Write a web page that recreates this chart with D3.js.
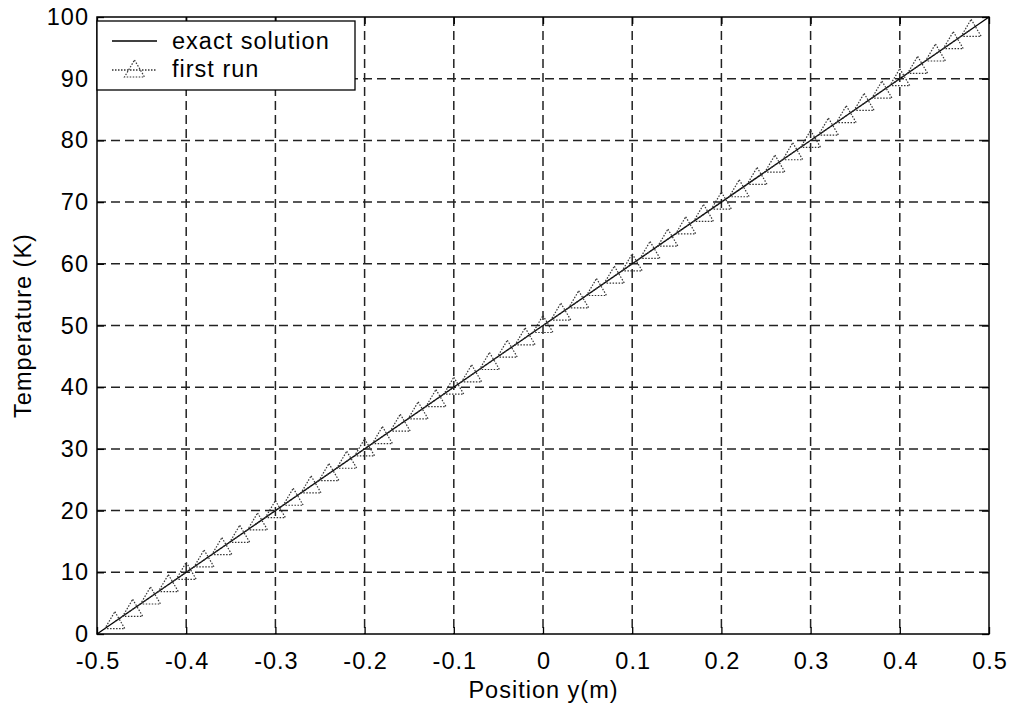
<!DOCTYPE html>
<html><head><meta charset="utf-8">
<script src="https://cdn.jsdelivr.net/npm/d3@7"></script>
<style>body{margin:0;background:#fff;} text{font-family:"Liberation Sans",Arial,sans-serif;}</style>
</head><body><svg id="c" width="1011" height="713"></svg>
<script>
const xTicks = [-0.5,-0.4,-0.3,-0.2,-0.1,0,0.1,0.2,0.3,0.4,0.5];
const yTicks = [0,10,20,30,40,50,60,70,80,90,100];
const exactX = [-0.5, 0, 0.5];
const exactT = [0, 50, 100];
const runX = [-0.48,-0.46,-0.44,-0.42,-0.40,-0.38,-0.36,-0.34,-0.32,-0.30,-0.28,-0.26,-0.24,-0.22,-0.20,-0.18,-0.16,-0.14,-0.12,-0.10,-0.08,-0.06,-0.04,-0.02,0,0.02,0.04,0.06,0.08,0.10,0.12,0.14,0.16,0.18,0.20,0.22,0.24,0.26,0.28,0.30,0.32,0.34,0.36,0.38,0.40,0.42,0.44,0.46,0.48];
const runT = [2,4,6,8,10,12,14,16,18,20,22,24,26,28,30,32,34,36,38,40,42,44,46,48,50,52,54,56,58,60,62,64,66,68,70,72,74,76,78,80,82,84,86,88,90,92,94,96,98];

const svg = d3.select("#c");
const L=97,R=989,T=17,B=634;
const FS=23.5, LS=1;
const x = d3.scaleLinear().domain([-0.5,0.5]).range([L,R]);
const y = d3.scaleLinear().domain([0,100]).range([B,T]);

// grid
const g = svg.append("g");
g.selectAll(".vg").data(xTicks.slice(1,-1)).enter().append("line")
 .attr("x1",d=>x(d)).attr("x2",d=>x(d)).attr("y1",T).attr("y2",B)
 .attr("stroke","#222").attr("stroke-width",1.5).attr("stroke-dasharray","9,5");
g.selectAll(".hg").data(yTicks.slice(1,-1)).enter().append("line")
 .attr("y1",d=>y(d)).attr("y2",d=>y(d)).attr("x1",L).attr("x2",R)
 .attr("stroke","#222").attr("stroke-width",1.5).attr("stroke-dasharray","9,5");

// axes
const fmt = d=> String(d);
const xa = svg.append("g").attr("transform",`translate(0,${B})`)
 .call(d3.axisBottom(x).tickValues(xTicks).tickSize(-7).tickPadding(27).tickFormat(fmt));
const xt = svg.append("g").attr("transform",`translate(0,${T})`)
 .call(d3.axisTop(x).tickValues(xTicks).tickSize(-7).tickFormat(""));
const ya = svg.append("g").attr("transform",`translate(${L},0)`)
 .call(d3.axisLeft(y).tickValues(yTicks).tickSize(-7).tickPadding(8).tickFormat(fmt));
const yr = svg.append("g").attr("transform",`translate(${R},0)`)
 .call(d3.axisRight(y).tickValues(yTicks).tickSize(-7).tickFormat(""));
[xa,xt,ya,yr].forEach(a=>{
  a.select(".domain").remove();
  a.selectAll("line").attr("stroke","#000").attr("stroke-width",1.3);
  a.selectAll("text").attr("font-size",FS).attr("fill","#000").attr("letter-spacing",LS)
   .style("font-family","Liberation Sans, Arial, sans-serif");
});
xa.selectAll("text").attr("dy","0.35em").attr("dx",LS/2);

svg.append("rect").attr("x",L).attr("y",T).attr("width",R-L).attr("height",B-T)
 .attr("fill","none").attr("stroke","#000").attr("stroke-width",1.5);

// exact line
const line = d3.line().x(d=>x(d[0])).y(d=>y(d[1]));
svg.append("path").datum(exactX.map((v,i)=>[v,exactT[i]])).attr("d",line)
 .attr("fill","none").attr("stroke","#000").attr("stroke-width",1.3);
// run line
svg.append("path").datum(runX.map((v,i)=>[v,runT[i]])).attr("d",line)
 .attr("fill","none").attr("stroke","#333").attr("stroke-width",1.3).attr("stroke-dasharray","1.5,1.5");
// triangles
const tri = (cx,cy)=>`M${cx},${cy-10}L${cx+10},${cy+7}L${cx-10},${cy+7}Z`;
svg.append("g").selectAll("path").data(runX.map((v,i)=>[v,runT[i]])).enter().append("path")
 .attr("d",d=>tri(x(d[0]),y(d[1])))
 .attr("fill","none").attr("stroke","#333").attr("stroke-width",1.2).attr("stroke-dasharray","1.5,1.5");

// labels
svg.append("text").attr("x",(L+R)/2+LS/2).attr("y",698).attr("text-anchor","middle")
 .attr("font-size",FS).attr("letter-spacing",LS).text("Position y(m)");
svg.append("text").attr("transform",`translate(31,${(T+B)/2}) rotate(-90)`).attr("text-anchor","middle")
 .attr("font-size",FS).attr("letter-spacing",LS).text("Temperature (K)");

// legend
const lg = svg.append("g");
lg.append("rect").attr("x",97).attr("y",21).attr("width",258).attr("height",69)
 .attr("fill","#fff").attr("stroke","#000").attr("stroke-width",1.3);
lg.append("line").attr("x1",112).attr("x2",157).attr("y1",41).attr("y2",41).attr("stroke","#000").attr("stroke-width",1.3);
lg.append("text").attr("x",172).attr("y",49).attr("font-size",FS).attr("letter-spacing",LS).text("exact solution");
lg.append("line").attr("x1",112).attr("x2",157).attr("y1",70).attr("y2",70).attr("stroke","#333").attr("stroke-width",1.3).attr("stroke-dasharray","1.5,1.5");
lg.append("path").attr("d",tri(134.5,70)).attr("fill","none").attr("stroke","#333").attr("stroke-width",1.2).attr("stroke-dasharray","1.5,1.5");
lg.append("text").attr("x",172).attr("y",77).attr("font-size",FS).attr("letter-spacing",LS).text("first run");
</script></body></html>
